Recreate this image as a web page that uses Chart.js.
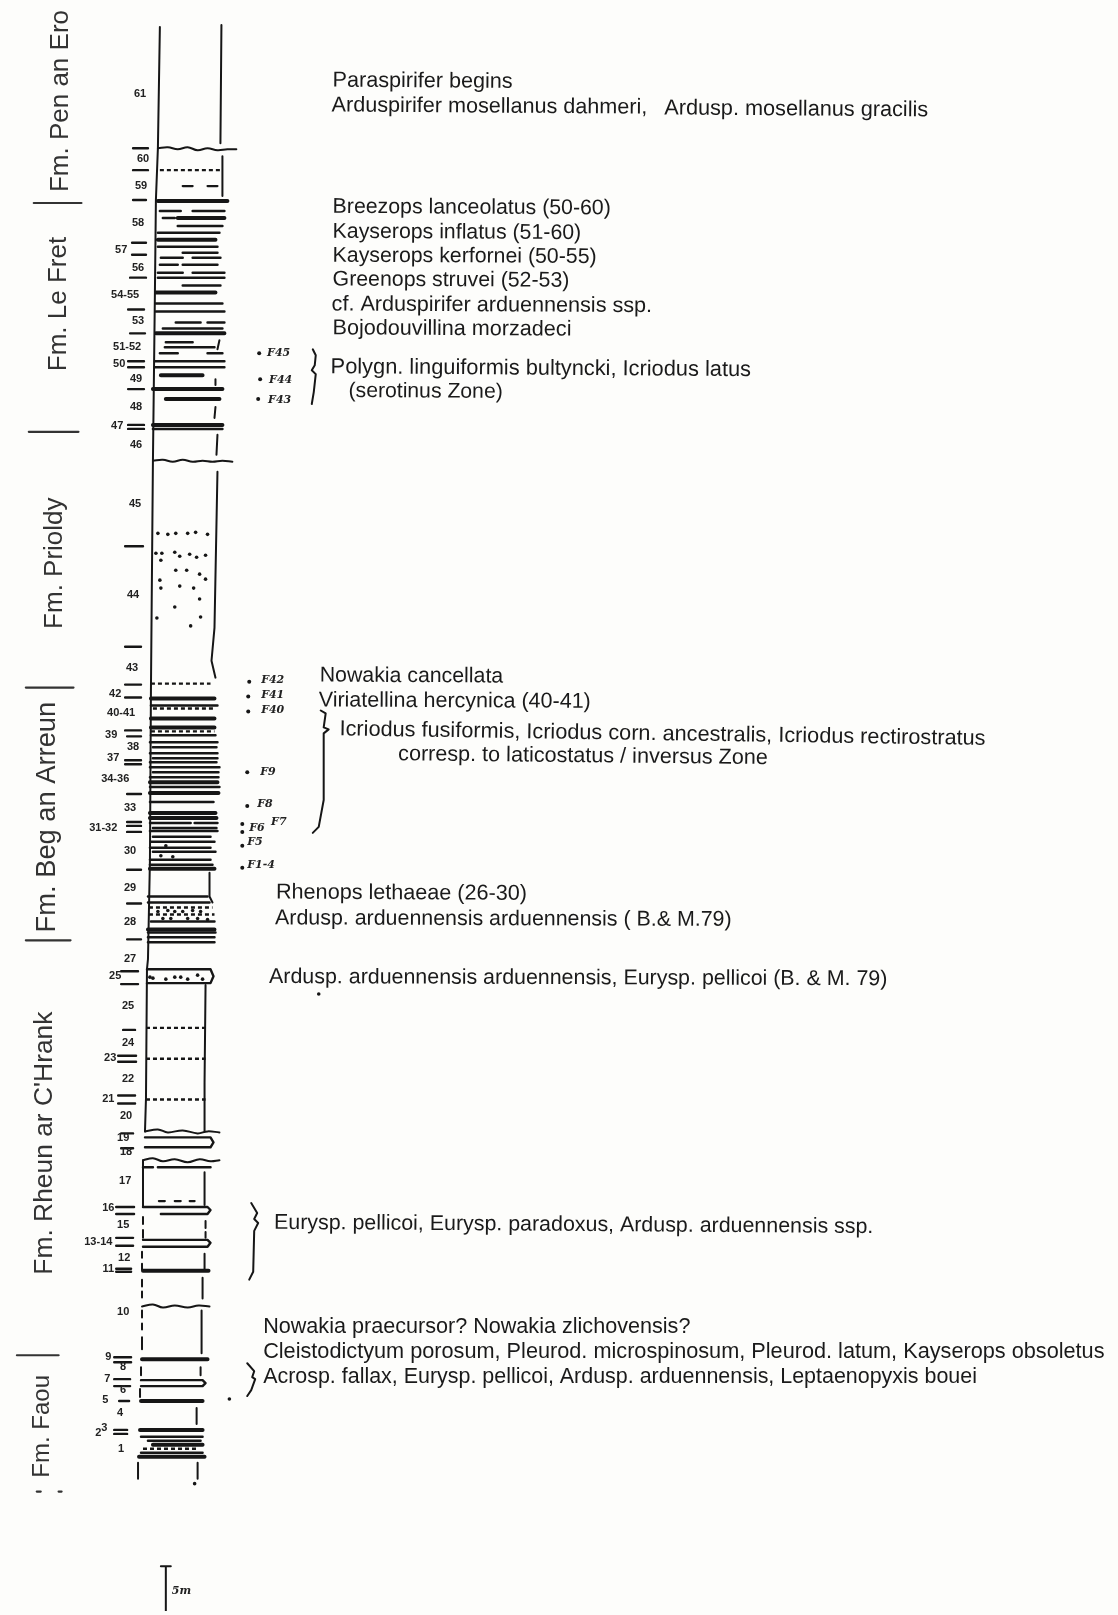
<!DOCTYPE html>
<html>
<head>
<meta charset="utf-8">
<title>Stratigraphic log</title>
<script src="https://cdn.jsdelivr.net/npm/chart.js@4/dist/chart.umd.min.js"></script>
<style>
  html, body { margin: 0; padding: 0; background: #fdfdfb; }
  canvas { display: block; filter: blur(0.5px); }
</style>
</head>
<body>
<canvas id="log" width="1118" height="1615"></canvas>
<script>
const leftEdge = [[157,23],[155,145],[153,197],[152,290],[150,459],[148,690],[147,860],[145,960],[144,970],[143,1100],[142,1133],null,
  [140,1162],[140,1209],null,[140,1219],[140,1226],null,[140,1232],[140,1240],null,[139,1254],[139,1260],null,[139,1266],[139,1272],null,
  [139,1282],[139,1289],null,[139,1294],[139,1300],null,[139,1313],[139,1320],null,[139,1326],[139,1332],null,[139,1340],[139,1352],null,
  [138,1370],[138,1378],null,[137,1392],[137,1400],null,[135,1466],[135,1482]];
const rightEdge = [[219,21],[218,140],null,[220,153],[220,193],null,[217,338],[215,347],null,[213,377],[213,383],null,[213,405],[212,416],null,
  [215,433],[214,453],null,[215,470],[212,627],[209,660],[213,677],null,[207,873],[207,897],[210,903],null,[203,986],[202,1084],[202,1133],null,
  [202,1174],[202,1207],null,[203,1223],[203,1230],null,[203,1234],[203,1240],null,[202,1256],[202,1272],null,[200,1280],[200,1301],null,
  [199,1313],[199,1356],null,[198,1370],[198,1378],null,[194,1411],[194,1427],null,[195,1466],[195,1482]];

// bed lines as [depth, from x, to x]
const thickBeds = [[198,155,225],[215,175,222],[237,155,213],[290,153,213],[331,153,222],[373,158,200],[387,150,220],[397,163,217],[423,150,220],
  [698,148,212],[718,148,212],[727,148,212],[782,147,215],[793,147,216],[813,147,213],[818,147,214],[869,147,212],[930,145,212],[1273,140,206],[1362,139,205],[1404,138,200],
  [1433,137,200],[1448,150,200],[1460,136,202]];
const mediumBeds = [[208,157,178],[208,190,222],[215,160,172],[223,175,220],[230,155,217],[244,155,215],[250,180,215],[255,158,180],[255,190,218],
  [262,157,175],[262,180,215],[270,155,180],[270,190,222],[275,155,222],[283,180,218],[301,153,220],[309,153,222],[320,173,198],[320,205,222],
  [326,160,220],[340,163,190],[345,162,212],[351,157,175],[351,205,220],[359,152,222],[365,152,222],[427,150,220],
  [705,148,215],[735,148,213],[742,147,215],[747,150,214],[753,147,215],[758,150,215],[762,147,214],[767,147,217],[772,150,216],[777,147,216],
  [787,147,217],[802,147,211],[823,147,188],[823,192,215],[828,150,214],[831,147,215],[837,150,208],[842,148,212],[848,147,208],[852,150,213],[860,147,208],
  [865,147,210],[897,145,205],[903,145,207],[922,148,212],[933,145,213],[938,145,212],[943,145,212],[1169,140,150],[1169,155,208],
  [1440,138,200],[1444,145,198],[1456,138,200]];
const dottedBeds = [[167,157,220],[683,148,208],[708,150,212],[731,148,212],[908,146,210],[915,146,212],[1029,143,203],[1060,143,203],[1101,143,203],[1452,140,195]];
const shortDashes = [[183,180,190],[183,205,215],[1203,156,162],[1203,172,178],[1203,187,192]];

// beds closed on the right with a rounded end
const closedBeds = [
  [[144,970],[208,970],[211,977],[208,984],[144,984]],
  [[142,1139],[208,1139],[211,1144],[208,1149],[142,1149]],
  [[140,1209],[205,1209],[208,1212],[205,1216],[158,1216]],
  [[140,1242],[205,1242],[208,1245],[205,1249],[140,1249]],
  [[138,1383],[200,1383],[203,1386],[200,1389],[138,1389]]
];

// erosion surfaces
const wavySurfaces = [
  [[155,145],[165,144],[175,146],[185,144],[195,147],[205,145],[215,147],[225,146],[234,146]],
  [[150,459],[160,458],[170,460],[180,458],[190,460],[200,459],[210,460],[220,459],[230,460]],
  [[142,1133],[155,1131],[165,1134],[180,1132],[195,1135],[205,1133],[217,1134]],
  [[140,1162],[150,1160],[160,1163],[172,1161],[185,1164],[197,1161],[208,1163],[217,1162]],
  [[139,1309],[150,1307],[160,1310],[172,1308],[185,1310],[196,1308],[207,1309]]
];

// sand grains
const sandDots = [[155,532],[165,533],[173,532],[185,532],[193,531],[205,533],[153,552],[159,552],[158,559],[172,551],[177,555],[187,553],[194,556],
  [203,554],[173,569],[184,569],[197,573],[203,578],[157,579],[158,587],[177,585],[191,587],[197,598],[172,606],[154,617],[198,616],[188,625],
  [147,978],[150,979],[163,980],[172,978],[178,978],[185,980],[195,976],[200,980],[317,995],[227,1402],[192,1487],
  [155,912],[165,911],[172,912],[180,912],[190,911],[198,912],[160,919],[168,919],[185,919],[195,919],[205,920],[158,856],[170,857],[163,846]];

// sample points beside the column
const sampleDots = [[257,351],[258,377],[256,397],[247,681],[246,696],[246,711],[245,772],[245,806],[240,824],[240,832],[240,846],[240,868]];

// horizontal ticks of the numbering column [depth, from x, to x]
const numberTicks = [[145,130,145],[167,130,145],[197,130,143],[240,129,143],[252,129,143],[275,127,143],[307,125,141],[331,127,142],[359,125,141],[365,125,141],
  [387,125,141],[423,125,141],[427,125,141],[545,122,140],[646,122,138],[684,122,138],[697,122,138],[730,122,138],[736,124,138],[760,122,138],[764,122,138],
  [794,124,138],[822,124,138],[826,124,138],[832,124,138],[870,124,138],[904,124,138],[940,124,138],
  [972,118,135],[985,118,135],[1031,120,132],[1057,115,133],[1063,115,133],[1097,115,132],[1105,115,132],[1135,118,130],[1150,118,130],[1209,113,131],[1216,113,131],
  [1240,113,130],[1248,113,130],[1271,113,128],[1274,113,128],[1360,111,128],[1365,111,128],[1382,111,127],[1389,111,127],[1404,116,126],[1433,111,124],[1437,111,124]];

const formationBars = [[200,30,78],[430,25,75],[687,22,70],[941,22,67],[1358,13,55],[1495,33,37],[1495,55,58]];

const brackets = [
  [[311,347],[314,353],[313,363],[310,368],[314,372],[312,390],[310,402]],
  [[319,710],[324,713],[322,727],[327,729],[322,733],[322,800],[317,827],[311,833]],
  [[249,1205],[255,1215],[252,1221],[256,1225],[252,1233],[251,1274],[247,1282]],
  [[245,1366],[252,1374],[250,1380],[253,1382],[249,1393],[245,1399]]
];
const scaleBar = [[158,1570],[168,1570],null,[163,1570],[163,1615]];

// formation names [text, x, y at start of text, size]
const formations = [
  ['Fm. Pen an Ero', 57, 189, 26],
  ['Fm. Le Fret', 55, 369, 26],
  ['Fm. Prioldy', 51, 628, 26],
  ['Fm. Beg an Arreun', 44, 933, 27.3],
  ["Fm. Rheun ar C'Hrank", 41, 1277, 26.4],
  ['Fm. Faou', 39, 1481, 24]
];

// bed numbers [text, centre x, y]
const bedNumbers = [['61',137,90],['60',140,156],['59',138,183],['58',135,220],['57',118,247],['56',135,265],['54-55',122,292],['53',135,319],['51-52',124,345],
  ['50',116,362],['49',133,377],['48',133,405],['47',114,424],['46',133,443],['45',132,502],['44',130,594],['43',129,667],['42',112,693],['40-41',118,713],
  ['39',108,735],['38',130,747],['37',110,758],['34-36',112,779],['33',127,808],['31-32',100,828],['30',127,851],['29',127,888],['28',127,923],['27',127,960],
  ['25',112,977],['25',125,1007],['24',125,1044],['23',107,1059],['22',125,1080],['21',105,1100],['20',123,1118],['19',120,1140],['18',123,1154],['17',122,1183],
  ['16',105,1210],['15',120,1227],['13-14',95,1244],['12',121,1260],['11',105,1271],['10',120,1314],['9',105,1360],['8',120,1370],['7',104,1382],['6',120,1393],
  ['5',102,1403],['4',117,1416],['2',95,1436],['3',101,1431],['1',118,1452]];

// handwritten sample labels [text, left x, y]
const sampleLabels = [['F45',265,351],['F44',267,378],['F43',266,398],['F42',259,680],['F41',259,695],['F40',259,710],['F9',258,772],['F8',255,804],
  ['F6',247,828],['F7',269,822],['F5',245,842],['F1-4',245,865],['5m',169,1595]];

// fossil notes [text, left x, y, tilt in degrees, size]
const fossilNotes = [
  ['Paraspirifer begins', 331, 77, 0.4, 21.6],
  ['Arduspirifer mosellanus dahmeri,', 330, 102, 0.4, 21.6],
  ['Ardusp. mosellanus gracilis', 665, 105, 0.4, 21.7],
  ['Breezops lanceolatus (50-60)', 331, 204, 0.3, 21.3],
  ['Kayserops inflatus (51-60)', 331, 229, 0.3, 21.3],
  ['Kayserops kerfornei (50-55)', 331, 253, 0.3, 21.3],
  ['Greenops struvei (52-53)', 331, 277, 0.3, 21.3],
  ['cf. Arduspirifer arduennensis ssp.', 330, 302, 0.3, 21.6],
  ['Bojodouvillina morzadeci', 331, 326, 0.3, 21.6],
  ['Polygn. linguiformis bultyncki, Icriodus latus', 329, 365, 0.4, 21.8],
  ['(serotinus Zone)', 347, 389, 0.4, 21.2],
  ['Nowakia cancellata', 318, 675, 0.3, 21.3],
  ['Viriatellina hercynica (40-41)', 317, 700, 0.3, 21.5],
  ['Icriodus fusiformis, Icriodus corn. ancestralis, Icriodus rectirostratus', 338, 729, 0.85, 21.7],
  ['corresp. to laticostatus / inversus Zone', 397, 754, 0.6, 21.6],
  ['Rhenops lethaeae (26-30)', 274, 893, 0.3, 21.6],
  ['Ardusp. arduennensis arduennensis ( B.& M.79)', 273, 919, 0.2, 21.4],
  ['Ardusp. arduennensis arduennensis, Eurysp. pellicoi (B. & M. 79)', 267, 978, 0.2, 21.4],
  ['Eurysp. pellicoi, Eurysp. paradoxus, Ardusp. arduennensis ssp.', 272, 1225, 0.4, 21.4],
  ['Nowakia praecursor? Nowakia zlichovensis?', 261, 1330, 0, 21.6],
  ['Cleistodictyum porosum, Pleurod. microspinosum, Pleurod. latum, Kayserops obsoletus', 261, 1355, 0, 21.7],
  ['Acrosp. fallax, Eurysp. pellicoi, Ardusp. arduennensis, Leptaenopyxis bouei', 261, 1380, 0, 21.45]
];

const INK = '#161616';

function fromPath(path) {
  return path.map(p => p ? { x: p[0], y: p[1] } : { x: null, y: null });
}
function fromBeds(beds) {
  const pts = [];
  beds.forEach(b => pts.push({ x: b[1], y: b[0] }, { x: b[2], y: b[0] }, { x: null, y: null }));
  return pts;
}
function joinPaths(paths) {
  return paths.flatMap(p => fromPath(p).concat([{ x: null, y: null }]));
}
function lineSet(data, width, extra) {
  return Object.assign({
    data: data, showLine: true, pointRadius: 0, borderColor: INK, borderWidth: width,
    backgroundColor: INK, spanGaps: false, borderCapStyle: 'round', borderJoinStyle: 'round'
  }, extra || {});
}
function dotSet(points, radius) {
  return { data: fromPath(points), showLine: false, pointRadius: radius, pointBorderWidth: 0, pointBackgroundColor: INK };
}

// text is placed through the scales, same as the marks
const textPlugin = {
  id: 'logText',
  afterDatasetsDraw(chart) {
    const ctx = chart.ctx, sx = chart.scales.x, sy = chart.scales.y;
    ctx.save();
    ctx.textBaseline = 'middle';

    ctx.fillStyle = '#333';
    formations.forEach(f => {
      ctx.save();
      ctx.translate(sx.getPixelForValue(f[1]), sy.getPixelForValue(f[2]));
      ctx.rotate(-Math.PI / 2);
      ctx.textAlign = 'left';
      ctx.font = f[3] + 'px "Liberation Sans"';
      ctx.fillText(f[0], 0, 0);
      ctx.restore();
    });

    ctx.fillStyle = '#222';
    ctx.textAlign = 'center';
    ctx.font = 'bold 11px "Liberation Sans"';
    bedNumbers.forEach(n => ctx.fillText(n[0], sx.getPixelForValue(n[1]), sy.getPixelForValue(n[2])));

    ctx.textAlign = 'left';
    ctx.font = 'italic bold 11px "DejaVu Serif"';
    sampleLabels.forEach(n => ctx.fillText(n[0], sx.getPixelForValue(n[1]), sy.getPixelForValue(n[2])));

    ctx.fillStyle = '#1a1a1a';
    fossilNotes.forEach(n => {
      ctx.save();
      ctx.font = n[4] + 'px "Liberation Sans"';
      ctx.translate(sx.getPixelForValue(n[1]), sy.getPixelForValue(n[2]));
      ctx.rotate(n[3] * Math.PI / 180);
      ctx.fillText(n[0], 0, 0);
      ctx.restore();
    });
    ctx.restore();
  }
};

new Chart(document.getElementById('log'), {
  type: 'scatter',
  data: {
    datasets: [
      lineSet(fromPath(leftEdge), 2),
      lineSet(fromPath(rightEdge), 2),
      lineSet(fromBeds(thickBeds), 4),
      lineSet(fromBeds(mediumBeds), 2.5),
      lineSet(fromBeds(dottedBeds), 2.4, { borderDash: [4, 3], borderCapStyle: 'butt' }),
      lineSet(fromBeds(shortDashes), 2.2),
      lineSet(joinPaths(closedBeds), 2.4),
      lineSet(joinPaths(wavySurfaces), 2, { tension: 0.4 }),
      lineSet(fromBeds(numberTicks), 2.4),
      lineSet(fromBeds(formationBars), 2.2, { borderColor: '#333' }),
      lineSet(joinPaths(brackets), 2),
      lineSet(fromPath(scaleBar), 2),
      dotSet(sandDots, 1.8),
      dotSet(sampleDots, 2)
    ]
  },
  options: {
    responsive: false,
    animation: false,
    devicePixelRatio: 1,
    layout: { padding: 0 },
    plugins: { legend: { display: false }, tooltip: { enabled: false } },
    scales: {
      x: { type: 'linear', display: false, min: 0, max: 1118 },
      y: { type: 'linear', display: false, min: 0, max: 1615, reverse: true }
    }
  },
  plugins: [textPlugin]
});
</script>
</body>
</html>
